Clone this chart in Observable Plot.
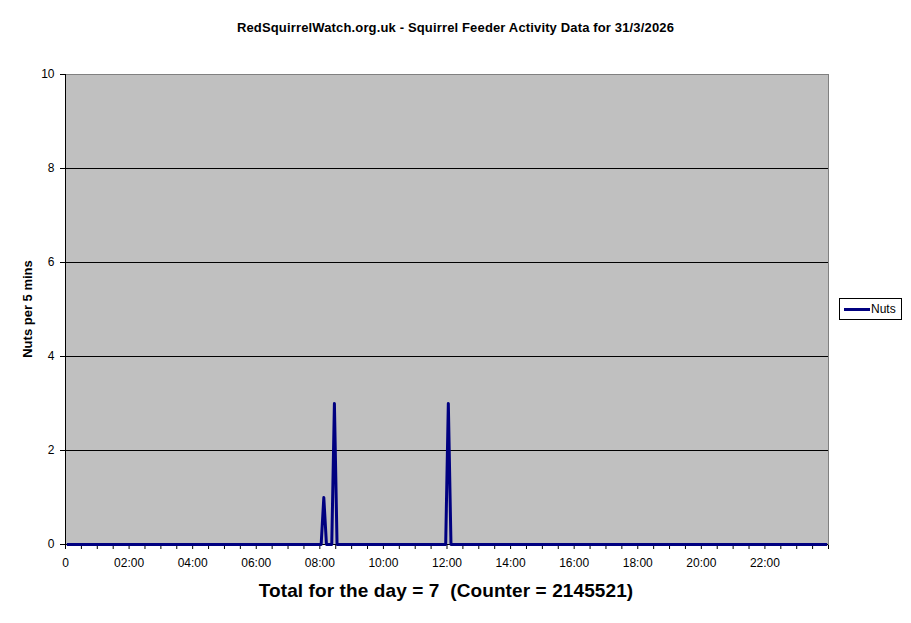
<!DOCTYPE html>
<html><head><meta charset="utf-8">
<script src="https://cdn.jsdelivr.net/npm/d3@7"></script>
<script src="https://cdn.jsdelivr.net/npm/@observablehq/plot@0.6"></script>
<style>
body{margin:0;background:#fff;font-family:"Liberation Sans",Arial,sans-serif;color:#000}
#wrap{position:relative;width:911px;height:623px;overflow:hidden;background:#fff}
#title{height:50px;box-sizing:border-box;padding-top:20px;text-align:center;font-weight:bold;font-size:13px;line-height:16px;letter-spacing:0.15px;white-space:pre}
#chart{height:525px}
#chart svg{display:block}
#caption{position:absolute;left:0;width:892px;top:579px;text-align:center;font-weight:bold;font-size:19px;line-height:24px;letter-spacing:0.1px;white-space:pre}
#ylabel{position:absolute;left:27px;top:309px;transform:translate(-50%,-50%) rotate(-90deg);font-weight:bold;font-size:13px;line-height:15px;white-space:nowrap}
#legend{position:absolute;left:839px;top:298px;width:63px;height:22px;box-sizing:border-box;border:1px solid #000;background:#fff;font-size:12px}
#legend .sw{position:absolute;left:4px;top:9px;width:26px;height:3px;background:#000080}
#legend .lt{position:absolute;left:31px;top:3px;line-height:14px}
</style></head>
<body>
<div id="wrap">
  <div id="title"></div>
  <div id="chart"></div>
  <div id="ylabel"></div>
  <div id="caption"></div>
  <div id="legend"><div class="sw"></div><div class="lt"></div></div>
</div>
<script>
// ---- data ----
const titleText = "RedSquirrelWatch.org.uk - Squirrel Feeder Activity Data for 31/3/2026";
const captionText = "Total for the day = 7  (Counter = 2145521)";
const yLabelText = "Nuts per 5 mins";
const seriesName = "Nuts";
const yTicks = [0, 2, 4, 6, 8, 10];
const yGrid = [2, 4, 6, 8];
const xTickLabels = ["0","02:00","04:00","06:00","08:00","10:00","12:00","14:00","16:00","18:00","20:00","22:00"];
// 5-minute slots over the day; every slot not listed below reads 0
const activeTimes = ["08:05", "08:25", "12:00"];
const activeValues = [1, 3, 3];

// ---- build table ----
const slots = [];
for (let h = 0; h < 24; h++) for (let m = 0; m < 60; m += 5)
  slots.push(String(h).padStart(2,"0") + ":" + String(m).padStart(2,"0"));
const valueByTime = new Map(activeTimes.map((t, i) => [t, activeValues[i]]));
const data = slots.map((t, i) => ({i, t, v: valueByTime.get(t) ?? 0}));
const nSlots = slots.length;
const xTicks = d3.range(0, nSlots + 1, 6);

document.getElementById("title").textContent = titleText;
document.getElementById("caption").textContent = captionText;
document.getElementById("ylabel").textContent = yLabelText;
document.querySelector("#legend .lt").textContent = seriesName;

const chart = Plot.plot({
  width: 911,
  height: 525,
  marginTop: 24,
  marginBottom: 31,
  marginLeft: 65,
  marginRight: 83,
  style: {background: "transparent", fontFamily: "'Liberation Sans', Arial, sans-serif", fontSize: "12px", color: "#000"},
  x: {domain: [0, nSlots], ticks: xTicks, tickSize: 5, tickPadding: 9,
      tickFormat: d => (d % 24 === 0 && d < nSlots) ? xTickLabels[d / 24] : "", label: null},
  y: {domain: [0, 10], ticks: yTicks, tickSize: 5, tickPadding: 6, label: null},
  marks: [
    Plot.frame({fill: "#C0C0C0", stroke: "#808080"}),
    Plot.ruleY(yGrid, {stroke: "#000", strokeWidth: 1}),
    Plot.ruleX([0], {stroke: "#000"}),
    Plot.ruleY([0], {stroke: "#000"}),
    Plot.line(data, {x: d => d.i + 0.5, y: "v", stroke: "#000080", strokeWidth: 3, strokeLinejoin: "round", strokeLinecap: "butt"})
  ]
});
document.getElementById("chart").appendChild(chart);
</script>
</body></html>
